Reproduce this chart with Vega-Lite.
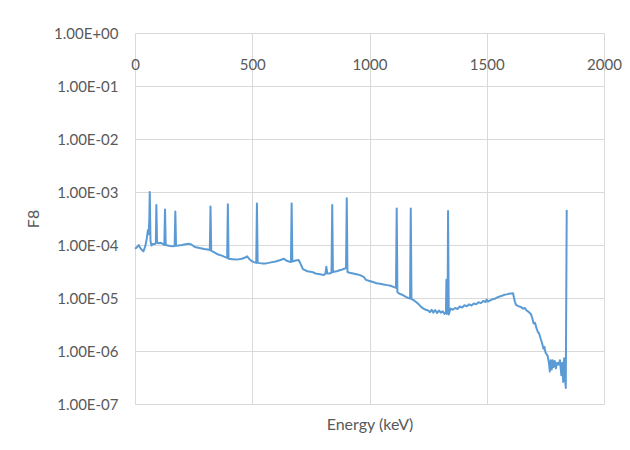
{
  "$schema": "https://vega.github.io/schema/vega-lite/v6.json",
  "width": 469,
  "height": 371,
  "autosize": {"type": "none"},
  "padding": {"left": 135, "top": 33, "right": 26, "bottom": 46},
  "background": "white",
  "config": {
    "view": {"stroke": null},
    "font": "Lato",
    "axis": {"labelFont": "Lato", "titleFont": "Lato", "labelColor": "#595959", "titleColor": "#595959", "gridColor": "#d9d9d9", "gridWidth": 1, "tickSize": 0, "ticks": false, "titleFontWeight": "normal"}
  },
  "data": {
    "values": [
      {"e": 0, "f": 8.5e-5}, {"e": 8, "f": 9e-5}, {"e": 16, "f": 1.0e-4}, {"e": 22, "f": 8.8e-5}, {"e": 30, "f": 8.0e-5}, {"e": 36, "f": 7.6e-5}, {"e": 44, "f": 9.5e-5}, {"e": 50, "f": 1.3e-4}, {"e": 55, "f": 1.9e-4}, {"e": 58, "f": 1.6e-4}, {"e": 61, "f": 3e-4}, {"e": 63, "f": 1.0e-3}, {"e": 66, "f": 1.2e-4}, {"e": 70, "f": 9.8e-5}, {"e": 78, "f": 1.05e-4}, {"e": 86, "f": 1.05e-4}, {"e": 89, "f": 1.1e-4}, {"e": 91, "f": 5.7e-4}, {"e": 94, "f": 1.1e-4}, {"e": 102, "f": 1.08e-4}, {"e": 110, "f": 1.1e-4}, {"e": 118, "f": 1.05e-4}, {"e": 125, "f": 1.0e-4}, {"e": 128, "f": 4.7e-4}, {"e": 131, "f": 1.0e-4}, {"e": 140, "f": 9.8e-5}, {"e": 150, "f": 9.6e-5}, {"e": 160, "f": 9.5e-5}, {"e": 169, "f": 9.6e-5}, {"e": 172, "f": 4.3e-4}, {"e": 175, "f": 9.7e-5}, {"e": 185, "f": 9.8e-5}, {"e": 200, "f": 1.0e-4}, {"e": 215, "f": 1.03e-4}, {"e": 230, "f": 1.06e-4}, {"e": 240, "f": 1.02e-4}, {"e": 255, "f": 9.2e-5}, {"e": 275, "f": 8.8e-5}, {"e": 295, "f": 8.4e-5}, {"e": 310, "f": 8.2e-5}, {"e": 319, "f": 8.0e-5}, {"e": 322, "f": 5.3e-4}, {"e": 325, "f": 7.8e-5}, {"e": 340, "f": 7.2e-5}, {"e": 355, "f": 6.6e-5}, {"e": 370, "f": 6.3e-5}, {"e": 385, "f": 5.9e-5}, {"e": 393, "f": 5.7e-5}, {"e": 396, "f": 5.9e-4}, {"e": 399, "f": 5.5e-5}, {"e": 415, "f": 5.4e-5}, {"e": 435, "f": 5.3e-5}, {"e": 455, "f": 5.5e-5}, {"e": 470, "f": 5.8e-5}, {"e": 478, "f": 6.1e-5}, {"e": 488, "f": 5.4e-5}, {"e": 500, "f": 4.9e-5}, {"e": 510, "f": 4.7e-5}, {"e": 517, "f": 4.6e-5}, {"e": 520, "f": 6.1e-4}, {"e": 523, "f": 4.6e-5}, {"e": 540, "f": 4.5e-5}, {"e": 560, "f": 4.5e-5}, {"e": 580, "f": 4.7e-5}, {"e": 600, "f": 4.9e-5}, {"e": 620, "f": 5.2e-5}, {"e": 635, "f": 5.5e-5}, {"e": 645, "f": 5.1e-5}, {"e": 660, "f": 4.8e-5}, {"e": 665, "f": 4.8e-5}, {"e": 668, "f": 6.1e-4}, {"e": 671, "f": 4.9e-5}, {"e": 685, "f": 5.1e-5}, {"e": 698, "f": 5.2e-5}, {"e": 706, "f": 4.4e-5}, {"e": 716, "f": 3.5e-5}, {"e": 735, "f": 3.2e-5}, {"e": 755, "f": 3.1e-5}, {"e": 770, "f": 2.9e-5}, {"e": 790, "f": 2.8e-5}, {"e": 805, "f": 2.7e-5}, {"e": 812, "f": 2.9e-5}, {"e": 816, "f": 3.9e-5}, {"e": 820, "f": 2.9e-5}, {"e": 830, "f": 2.9e-5}, {"e": 838, "f": 3.0e-5}, {"e": 841, "f": 5.7e-4}, {"e": 844, "f": 3.1e-5}, {"e": 860, "f": 3.2e-5}, {"e": 880, "f": 3.4e-5}, {"e": 895, "f": 3.6e-5}, {"e": 900, "f": 3.7e-5}, {"e": 903, "f": 7.6e-4}, {"e": 906, "f": 3.1e-5}, {"e": 915, "f": 3.0e-5}, {"e": 930, "f": 2.9e-5}, {"e": 945, "f": 2.8e-5}, {"e": 960, "f": 2.7e-5}, {"e": 975, "f": 2.5e-5}, {"e": 985, "f": 2.2e-5}, {"e": 1000, "f": 2.1e-5}, {"e": 1015, "f": 2.0e-5}, {"e": 1030, "f": 1.9e-5}, {"e": 1045, "f": 1.85e-5}, {"e": 1060, "f": 1.8e-5}, {"e": 1075, "f": 1.75e-5}, {"e": 1090, "f": 1.7e-5}, {"e": 1105, "f": 1.6e-5}, {"e": 1113, "f": 1.55e-5}, {"e": 1116, "f": 4.9e-4}, {"e": 1119, "f": 1.3e-5}, {"e": 1128, "f": 1.2e-5}, {"e": 1140, "f": 1.15e-5}, {"e": 1155, "f": 1.05e-5}, {"e": 1165, "f": 1.0e-5}, {"e": 1173, "f": 9.8e-6}, {"e": 1176, "f": 4.9e-4}, {"e": 1179, "f": 9.5e-6}, {"e": 1190, "f": 9.0e-6}, {"e": 1200, "f": 8.3e-6}, {"e": 1210, "f": 7.6e-6}, {"e": 1220, "f": 6.8e-6}, {"e": 1230, "f": 6.3e-6}, {"e": 1240, "f": 6.0e-6}, {"e": 1250, "f": 5.8e-6}, {"e": 1258, "f": 5.4e-6}, {"e": 1265, "f": 6.0e-6}, {"e": 1272, "f": 5.3e-6}, {"e": 1280, "f": 5.9e-6}, {"e": 1288, "f": 5.2e-6}, {"e": 1296, "f": 5.8e-6}, {"e": 1304, "f": 5.3e-6}, {"e": 1312, "f": 5.6e-6}, {"e": 1320, "f": 5.0e-6}, {"e": 1326, "f": 5.5e-6}, {"e": 1328, "f": 2.2e-5}, {"e": 1330, "f": 5.0e-6}, {"e": 1333, "f": 5.2e-6}, {"e": 1335, "f": 4.4e-4}, {"e": 1338, "f": 4.9e-6}, {"e": 1345, "f": 6.3e-6}, {"e": 1355, "f": 6.0e-6}, {"e": 1365, "f": 6.5e-6}, {"e": 1375, "f": 6.2e-6}, {"e": 1385, "f": 6.9e-6}, {"e": 1395, "f": 6.6e-6}, {"e": 1405, "f": 7.3e-6}, {"e": 1415, "f": 7.0e-6}, {"e": 1425, "f": 7.6e-6}, {"e": 1435, "f": 7.2e-6}, {"e": 1445, "f": 7.9e-6}, {"e": 1455, "f": 7.6e-6}, {"e": 1465, "f": 8.3e-6}, {"e": 1475, "f": 8.0e-6}, {"e": 1485, "f": 8.8e-6}, {"e": 1495, "f": 8.4e-6}, {"e": 1500, "f": 9.4e-6}, {"e": 1505, "f": 8.6e-6}, {"e": 1515, "f": 9.0e-6}, {"e": 1525, "f": 9.5e-6}, {"e": 1535, "f": 9.7e-6}, {"e": 1545, "f": 1.03e-5}, {"e": 1555, "f": 1.07e-5}, {"e": 1565, "f": 1.1e-5}, {"e": 1575, "f": 1.15e-5}, {"e": 1585, "f": 1.17e-5}, {"e": 1595, "f": 1.2e-5}, {"e": 1605, "f": 1.22e-5}, {"e": 1612, "f": 1.23e-5}, {"e": 1620, "f": 8.5e-6}, {"e": 1625, "f": 7.4e-6}, {"e": 1635, "f": 7.0e-6}, {"e": 1645, "f": 6.8e-6}, {"e": 1655, "f": 6.3e-6}, {"e": 1662, "f": 6.5e-6}, {"e": 1670, "f": 5.8e-6}, {"e": 1680, "f": 5.4e-6}, {"e": 1688, "f": 5.0e-6}, {"e": 1694, "f": 4.2e-6}, {"e": 1700, "f": 3.3e-6}, {"e": 1706, "f": 3.4e-6}, {"e": 1712, "f": 2.7e-6}, {"e": 1718, "f": 2.3e-6}, {"e": 1724, "f": 2.1e-6}, {"e": 1730, "f": 1.7e-6}, {"e": 1736, "f": 1.4e-6}, {"e": 1742, "f": 1.1e-6}, {"e": 1746, "f": 1.2e-6}, {"e": 1750, "f": 9.5e-7}, {"e": 1755, "f": 8.7e-7}, {"e": 1760, "f": 8.0e-7}, {"e": 1765, "f": 6.0e-7}, {"e": 1769, "f": 4.1e-7}, {"e": 1773, "f": 6.7e-7}, {"e": 1777, "f": 4.5e-7}, {"e": 1781, "f": 6.7e-7}, {"e": 1785, "f": 5.0e-7}, {"e": 1790, "f": 6.5e-7}, {"e": 1795, "f": 4.7e-7}, {"e": 1800, "f": 6.0e-7}, {"e": 1806, "f": 5.5e-7}, {"e": 1812, "f": 6.7e-7}, {"e": 1818, "f": 3.5e-7}, {"e": 1822, "f": 6.0e-7}, {"e": 1826, "f": 2.6e-7}, {"e": 1830, "f": 7.3e-7}, {"e": 1834, "f": 3.0e-7}, {"e": 1837, "f": 2.0e-7}, {"e": 1841, "f": 4.6e-4}
    ]
  },
  "mark": {"type": "line", "color": "#5B9BD5", "strokeWidth": 2, "strokeJoin": "round"},
  "encoding": {
    "x": {
      "field": "e", "type": "quantitative",
      "scale": {"domain": [0, 2000], "nice": false, "zero": false},
      "axis": {
        "orient": "top", "title": "Energy (keV)", "values": [0, 500, 1000, 1500, 2000], "format": "d",
        "domain": false, "grid": true, "labelFlush": false, "labelOverlap": false,
        "labelPadding": -24, "labelBaseline": "top", "labelFontSize": 15,
        "titleFontSize": 16, "titleY": 391, "titleBaseline": "middle"
      }
    },
    "y": {
      "field": "f", "type": "quantitative", "title": "F8",
      "scale": {"type": "log", "domain": [1e-7, 1], "nice": false},
      "axis": {
        "values": [1e-7, 1e-6, 1e-5, 1e-4, 1e-3, 1e-2, 1e-1, 1],
        "labelExpr": "datum.value >= 0.5 ? '1.00E+00' : '1.00E-0' + round(-log(datum.value)/LN10)",
        "domain": false, "grid": true, "labelPadding": 17, "labelFontSize": 15, "labelOverlap": false,
        "titleFontSize": 16, "titleX": -102, "titleAlign": "center", "titleBaseline": "middle"
      }
    }
  }
}
